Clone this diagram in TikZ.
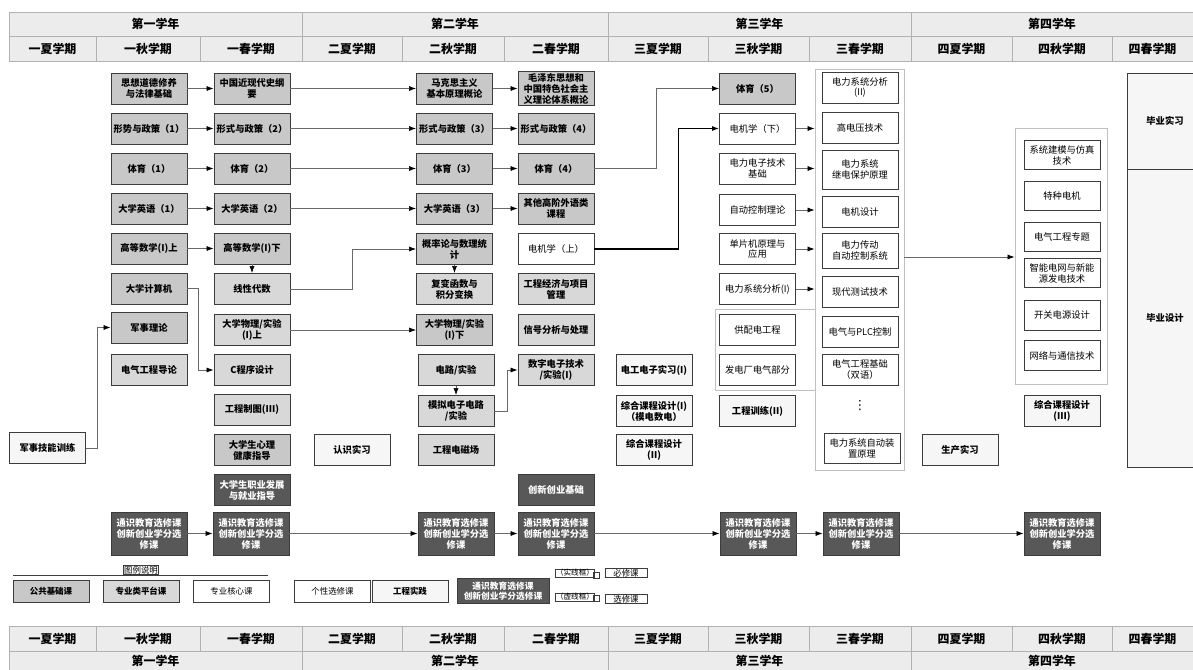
\documentclass[tikz,border=0pt]{standalone}
\usepackage{fontspec}
\newfontfamily\cjk{Noto Sans CJK SC}
\newfontfamily\symf{DejaVu Sans}
\usetikzlibrary{positioning}
\usetikzlibrary{arrows.meta}
\definecolor{hdrgray}{RGB}{236,236,236}
\definecolor{hdrline}{RGB}{178,178,178}
\definecolor{pubgray}{RGB}{200,200,200}
\definecolor{platgray}{RGB}{216,216,216}
\definecolor{pracgray}{RGB}{246,246,246}
\definecolor{gedark}{RGB}{88,88,88}
\definecolor{boxline}{RGB}{60,60,60}
\definecolor{grpline}{RGB}{192,192,192}
\definecolor{wire}{RGB}{105,105,105}

\begin{document}
\begin{tikzpicture}[x=0.025cm,y=-0.025cm,
    crs/.style={draw=boxline, line width=0.6pt, minimum width=1.9cm, minimum height=0.775cm,
                inner sep=1pt, align=center, font=\cjk\bfseries\fontsize{6.6}{7.8}\selectfont},
    pub/.style={crs, fill=pubgray},
    plat/.style={crs, fill=platgray},
    core/.style={crs, fill=white, font=\cjk\fontsize{6.6}{7.8}\selectfont},
    prac/.style={crs, fill=pracgray},
    dark/.style={crs, fill=gedark, text=white},
    gened/.style={dark, minimum height=1.075cm},
    grp/.style={draw=grpline, line width=0.6pt, inner sep=0pt, fill=white},
    arr/.style={draw=wire, line width=0.5pt, -{Latex[length=5pt,width=3.6pt,color=black]}},
    hdr/.style={draw=hdrline, fill=hdrgray, line width=0.6pt},
    hdrln/.style={draw=hdrline, line width=0.6pt},
    htxt/.style={font=\cjk\bfseries\fontsize{8.5}{9}\selectfont},
    lgd/.style={crs, minimum height=0.53cm, font=\cjk\bfseries\fontsize{6}{7}\selectfont},
    tiny/.style={draw=boxline, line width=0.4pt, inner sep=0.4pt, font=\cjk\fontsize{5.4}{6}\selectfont}
  ]
  \useasboundingbox (0,0) rectangle (1193,670);

  % header (top)
  \draw[hdr] (9,12) rectangle (1193,61);
  \draw[hdrln] (9,36) -- (1193,36);
  \draw[hdrln] (302,12) -- (302,61) (608,12) -- (608,61) (911,12) -- (911,61);
  \draw[hdrln] (96,36) -- (96,61) (200,36) -- (200,61) (402,36) -- (402,61) (504,36) -- (504,61)
               (708,36) -- (708,61) (809,36) -- (809,61) (1012,36) -- (1012,61) (1112,36) -- (1112,61);
  \node[htxt] (ty1h) at (155.5,24) {第一学年};
  \node[htxt] (ty2h) at (455,24) {第二学年};
  \node[htxt] (ty3h) at (759.5,24) {第三学年};
  \node[htxt] (ty4h) at (1052,24) {第四学年};
  \node[htxt] (ts1) at (52.5,48.5) {一夏学期};  \node[htxt] (ts2) at (148,48.5) {一秋学期};
  \node[htxt] (ts3) at (251,48.5) {一春学期};   \node[htxt] (ts4) at (352,48.5) {二夏学期};
  \node[htxt] (ts5) at (453,48.5) {二秋学期};   \node[htxt] (ts6) at (556,48.5) {二春学期};
  \node[htxt] (ts7) at (658,48.5) {三夏学期};   \node[htxt] (ts8) at (758.5,48.5) {三秋学期};
  \node[htxt] (ts9) at (860,48.5) {三春学期};   \node[htxt] (ts10) at (961.5,48.5) {四夏学期};
  \node[htxt] (ts11) at (1062,48.5) {四秋学期}; \node[htxt] (ts12) at (1152.5,48.5) {四春学期};

  % elective groups
  \node[grp, minimum width=2.225cm, minimum height=10.025cm] (grp3) at (859.5,269.5) {};
  \node[grp, minimum width=2.5cm, minimum height=2.025cm] (grp2) at (765,349.5) {};
  \node[grp, minimum width=2.3cm, minimum height=6.4cm] (grp4) at (1061,256) {};

  % first year
  \node[prac] (jnxl) at (47.5,448) {军事技能训练};
  \node[pub] (sx) at (149,88.5) {思想道德修养\\与法律基础};
  \node[pub] (xs1) at (149,128.5) {形势与政策（1）};
  \node[pub] (ty1) at (149,168.5) {体育（1）};
  \node[pub] (yy1) at (149,208.5) {大学英语（1）};
  \node[pub] (gs1) at (149,248.5) {高等数学(I)上};
  \node[pub] (jsj) at (149,288.5) {大学计算机};
  \node[pub] (jsl) at (149,327.5) {军事理论};
  \node[plat] (dqdl) at (149,370) {电气工程导论};
  \node[pub] (zg) at (252,88.5) {中国近现代史纲\\要};
  \node[pub] (xs2) at (252,128.5) {形式与政策（2）};
  \node[pub] (ty2) at (252,168.5) {体育（2）};
  \node[pub] (yy2) at (252,208.5) {大学英语（2）};
  \node[pub] (gs2) at (252,248.5) {高等数学(I)下};
  \node[plat] (xd) at (252,289) {线性代数};
  \node[plat] (wl1) at (252,330) {大学物理/实验\\(I)上};
  \node[plat] (cp) at (252,370) {C程序设计};
  \node[plat] (zt) at (252,410) {工程制图(III)};
  \node[pub] (xl) at (252,450) {大学生心理\\健康指导};
  \node[dark] (zy) at (252,490) {大学生职业发展\\与就业指导};

  % second year
  \node[prac] (rs) at (352,450) {认识实习};
  \node[pub] (mk) at (454.5,88.5) {马克思主义\\基本原理概论};
  \node[pub] (xs3) at (454.5,128.5) {形式与政策（3）};
  \node[pub] (ty3) at (454.5,168.5) {体育（3）};
  \node[pub] (yy3) at (454.5,208.5) {大学英语（3）};
  \node[pub] (gl) at (454.5,249) {概率论与数理统\\计};
  \node[plat] (fb) at (454.5,289) {复变函数与\\积分变换};
  \node[pub] (wl2) at (454.5,330) {大学物理/实验\\(I)下};
  \node[plat] (dl) at (456,370) {电路/实验};
  \node[plat] (mn) at (456,411) {模拟电子电路\\/实验};
  \node[plat] (dc) at (456,450) {工程电磁场};
  \node[pub] (mz) at (556,88.5) {毛泽东思想和\\中国特色社会主\\义理论体系概论};
  \node[pub] (xs4) at (556,128.5) {形式与政策（4）};
  \node[pub] (ty4) at (556,168.5) {体育（4）};
  \node[pub] (yy4) at (556,208.5) {其他高阶外语类\\课程};
  \node[core] (dj1) at (556,249) {电机学（上）};
  \node[plat] (gj) at (556,289) {工程经济与项目\\管理};
  \node[plat] (xh) at (556,330) {信号分析与处理};
  \node[plat] (sz) at (556,370) {数字电子技术\\/实验(I)};
  \node[dark] (cx) at (556,490) {创新创业基础};

  % third year
  \node[prac] (dg) at (654,370) {电工电子实习(I)};
  \node[prac] (zk1) at (654,411) {综合课程设计(I)\\（模电数电）};
  \node[prac] (zk2) at (654,450) {综合课程设计\\(II)};
  \node[pub] (ty5) at (757.5,88.5) {体育（5）};
  \node[core] (dj2) at (757.5,128.5) {电机学（下）};
  \node[core] (dz) at (757.5,168.5) {电力电子技术\\基础};
  \node[core] (zk) at (757.5,210) {自动控制理论};
  \node[core] (dp) at (757.5,249) {单片机原理与\\应用};
  \node[core] (fx1) at (757.5,289) {电力系统分析(I)};
  \node[core] (gp) at (757.5,330) {供配电工程};
  \node[core] (fd) at (757.5,370) {发电厂电气部分};
  \node[prac] (gx) at (757.5,411) {工程训练(II)};
  \node[core] (fx2) at (860,87.5) {电力系统分析\\(II)};
  \node[core] (gy) at (860,127.5) {高电压技术};
  \node[core, minimum height=0.975cm] (jb) at (860,169.5) {电力系统\\继电保护原理};
  \node[core] (djs) at (860,211.5) {电机设计};
  \node[core, minimum height=0.875cm] (cd) at (860,250.5) {电力传动\\自动控制系统};
  \node[core] (cs) at (860,291.5) {现代测试技术};
  \node[core] (plc) at (860,331.5) {电气与PLC控制};
  \node[core] (jc) at (860,370) {电气工程基础\\（双语）};
  \node[font=\symf\fontsize{9}{9}\selectfont] (dots) at (860,406) {⋮};
  \node[core, minimum height=0.75cm] (zz) at (862,448) {电力系统自动装\\置原理};

  % fourth year
  \node[prac] (sc) at (960,450) {生产实习};
  \node[core, minimum height=0.74cm] (jm) at (1062,155) {系统建模与仿真\\技术};
  \node[core, minimum height=0.74cm] (tz) at (1062,196) {特种电机};
  \node[core, minimum height=0.74cm] (zt2) at (1062,237) {电气工程专题};
  \node[core, minimum height=0.74cm] (zn) at (1062,273) {智能电网与新能\\源发电技术};
  \node[core, minimum height=0.74cm] (kg) at (1062,315.5) {开关电源设计};
  \node[core, minimum height=0.74cm] (wx) at (1062,355.5) {网络与通信技术};
  \node[prac] (zk3) at (1062,411) {综合课程设计\\(III)};
  \node[prac, minimum height=2.4cm] (bs) at (1165,121) {毕业实习};
  \node[prac, minimum height=7.45cm] (bsj) at (1165,318) {毕业设计};

  % general education row
  \node[gened] (gen1) at (149,533.5) {通识教育选修课\\创新创业学分选\\修课};
  \node[gened] (gen2) at (251,533.5) {通识教育选修课\\创新创业学分选\\修课};
  \node[gened] (gen3) at (456,533.5) {通识教育选修课\\创新创业学分选\\修课};
  \node[gened] (gen4) at (556,533.5) {通识教育选修课\\创新创业学分选\\修课};
  \node[gened] (gen5) at (758,533.5) {通识教育选修课\\创新创业学分选\\修课};
  \node[gened] (gen6) at (861,533.5) {通识教育选修课\\创新创业学分选\\修课};
  \node[gened] (gen7) at (1062,533.5) {通识教育选修课\\创新创业学分选\\修课};

  % connectors
  \draw[arr] (sx) -- (zg);   \draw[arr] (zg) -- (mk);   \draw[arr] (mk) -- (mz);
  \draw[arr] (xs1) -- (xs2); \draw[arr] (xs2) -- (xs3); \draw[arr] (xs3) -- (xs4);
  \draw[arr] (ty1) -- (ty2); \draw[arr] (ty2) -- (ty3); \draw[arr] (ty3) -- (ty4);
  \draw[arr] (ty4.east) -- ++(62,0) |- (ty5.west);
  \draw[arr] (yy1) -- (yy2); \draw[arr] (yy2) -- (yy3); \draw[arr] (yy3) -- (yy4);
  \draw[arr] (gs1) -- (gs2);
  \draw[arr] (gs2) -- (xd);
  \draw[arr] (xd.east) -- ++(62,0) |- (gl.west);
  \draw[arr] (gl) -- (fb);
  \draw[arr] (wl1) -- (wl2);
  \draw[arr] (jsj.east) -- ++(11,0) |- (cp.west);
  \draw[arr] (jnxl.east) -- ++(11,0) |- (jsl.west);
  \draw[arr] (dl) -- (mn);
  \draw[arr] (mn.east) -- ++(13,0) |- (sz.west);
  \draw[arr, draw=black, line width=0.8pt] (dj1.east) -- ++(84,0) |- (dj2.west);
  \draw[arr] (dj2) -- (dj2 -| grp3.west);
  \draw[arr] (dz) -- (dz -| grp3.west);
  \draw[arr] (zk) -- (zk -| grp3.west);
  \draw[arr] (dp) -- (dp -| grp3.west);
  \draw[arr] (fx1) -- (fx1 -| grp3.west);
  \coordinate (jn) at (960,257);
  \draw[arr] (grp3.east |- jn) -- (grp4.west |- jn);
  \draw[arr] (gen1) -- (gen2); \draw[arr] (gen2) -- (gen3); \draw[arr] (gen3) -- (gen4);
  \draw[arr] (gen4) -- (gen5); \draw[arr] (gen5) -- (gen6); \draw[arr] (gen6) -- (gen7);

  % legend
  \draw[boxline, line width=0.6pt] (13,575) -- (268,575);
  \node[tiny, font=\cjk\fontsize{6}{7}\selectfont] (lgt) at (141,570) {图例说明};
  \node[lgd, fill=pubgray] (lg1) at (51,591.5) {公共基础课};
  \node[lgd, fill=platgray] (lg2) at (141,591.5) {专业类平台课};
  \node[lgd, fill=white, font=\cjk\fontsize{6}{7}\selectfont] (lg3) at (231.5,591.5) {专业核心课};
  \node[lgd, fill=white, font=\cjk\fontsize{6}{7}\selectfont] (lg4) at (332.5,591.5) {个性选修课};
  \node[lgd, fill=pracgray] (lg5) at (410,591.5) {工程实践};
  \node[lgd, fill=gedark, text=white, minimum width=2.3cm, minimum height=0.62cm,
        font=\cjk\bfseries\fontsize{6.2}{7.2}\selectfont] (lg6) at (503,591) {通识教育选修课\\创新创业学分选修课};
  \node[tiny] (sxk) at (575,573) {（实线框）};
  \node[tiny, minimum size=0.16cm] (sq1) at (596,575) {};
  \node[tiny, minimum width=1.05cm, font=\cjk\fontsize{6}{6.5}\selectfont] (bxk) at (626,573) {必修课};
  \node[tiny] (xxk) at (575,597) {（虚线框）};
  \node[tiny, minimum size=0.16cm] (sq2) at (596,598) {};
  \node[tiny, minimum width=1.05cm, font=\cjk\fontsize{6}{6.5}\selectfont] (xuk) at (626,599) {选修课};

  % header (bottom)
  \draw[hdr] (9,626) rectangle (1193,672);
  \draw[hdrln] (9,651) -- (1193,651);
  \draw[hdrln] (302,626) -- (302,672) (608,626) -- (608,672) (911,626) -- (911,672);
  \draw[hdrln] (96,626) -- (96,651) (200,626) -- (200,651) (402,626) -- (402,651) (504,626) -- (504,651)
               (708,626) -- (708,651) (809,626) -- (809,651) (1012,626) -- (1012,651) (1112,626) -- (1112,651);
  \node[htxt] (bs1) at (52.5,638.5) {一夏学期};  \node[htxt] (bs2) at (148,638.5) {一秋学期};
  \node[htxt] (bs3) at (251,638.5) {一春学期};   \node[htxt] (bs4) at (352,638.5) {二夏学期};
  \node[htxt] (bs5) at (453,638.5) {二秋学期};   \node[htxt] (bs6) at (556,638.5) {二春学期};
  \node[htxt] (bs7) at (658,638.5) {三夏学期};   \node[htxt] (bs8) at (758.5,638.5) {三秋学期};
  \node[htxt] (bs9) at (860,638.5) {三春学期};   \node[htxt] (bs10) at (961.5,638.5) {四夏学期};
  \node[htxt] (bs11) at (1062,638.5) {四秋学期}; \node[htxt] (bs12) at (1152.5,638.5) {四春学期};
  \node[htxt] (by1) at (155.5,661) {第一学年};
  \node[htxt] (by2) at (455,661) {第二学年};
  \node[htxt] (by3) at (759.5,661) {第三学年};
  \node[htxt] (by4) at (1052,661) {第四学年};
\end{tikzpicture}
\end{document}
